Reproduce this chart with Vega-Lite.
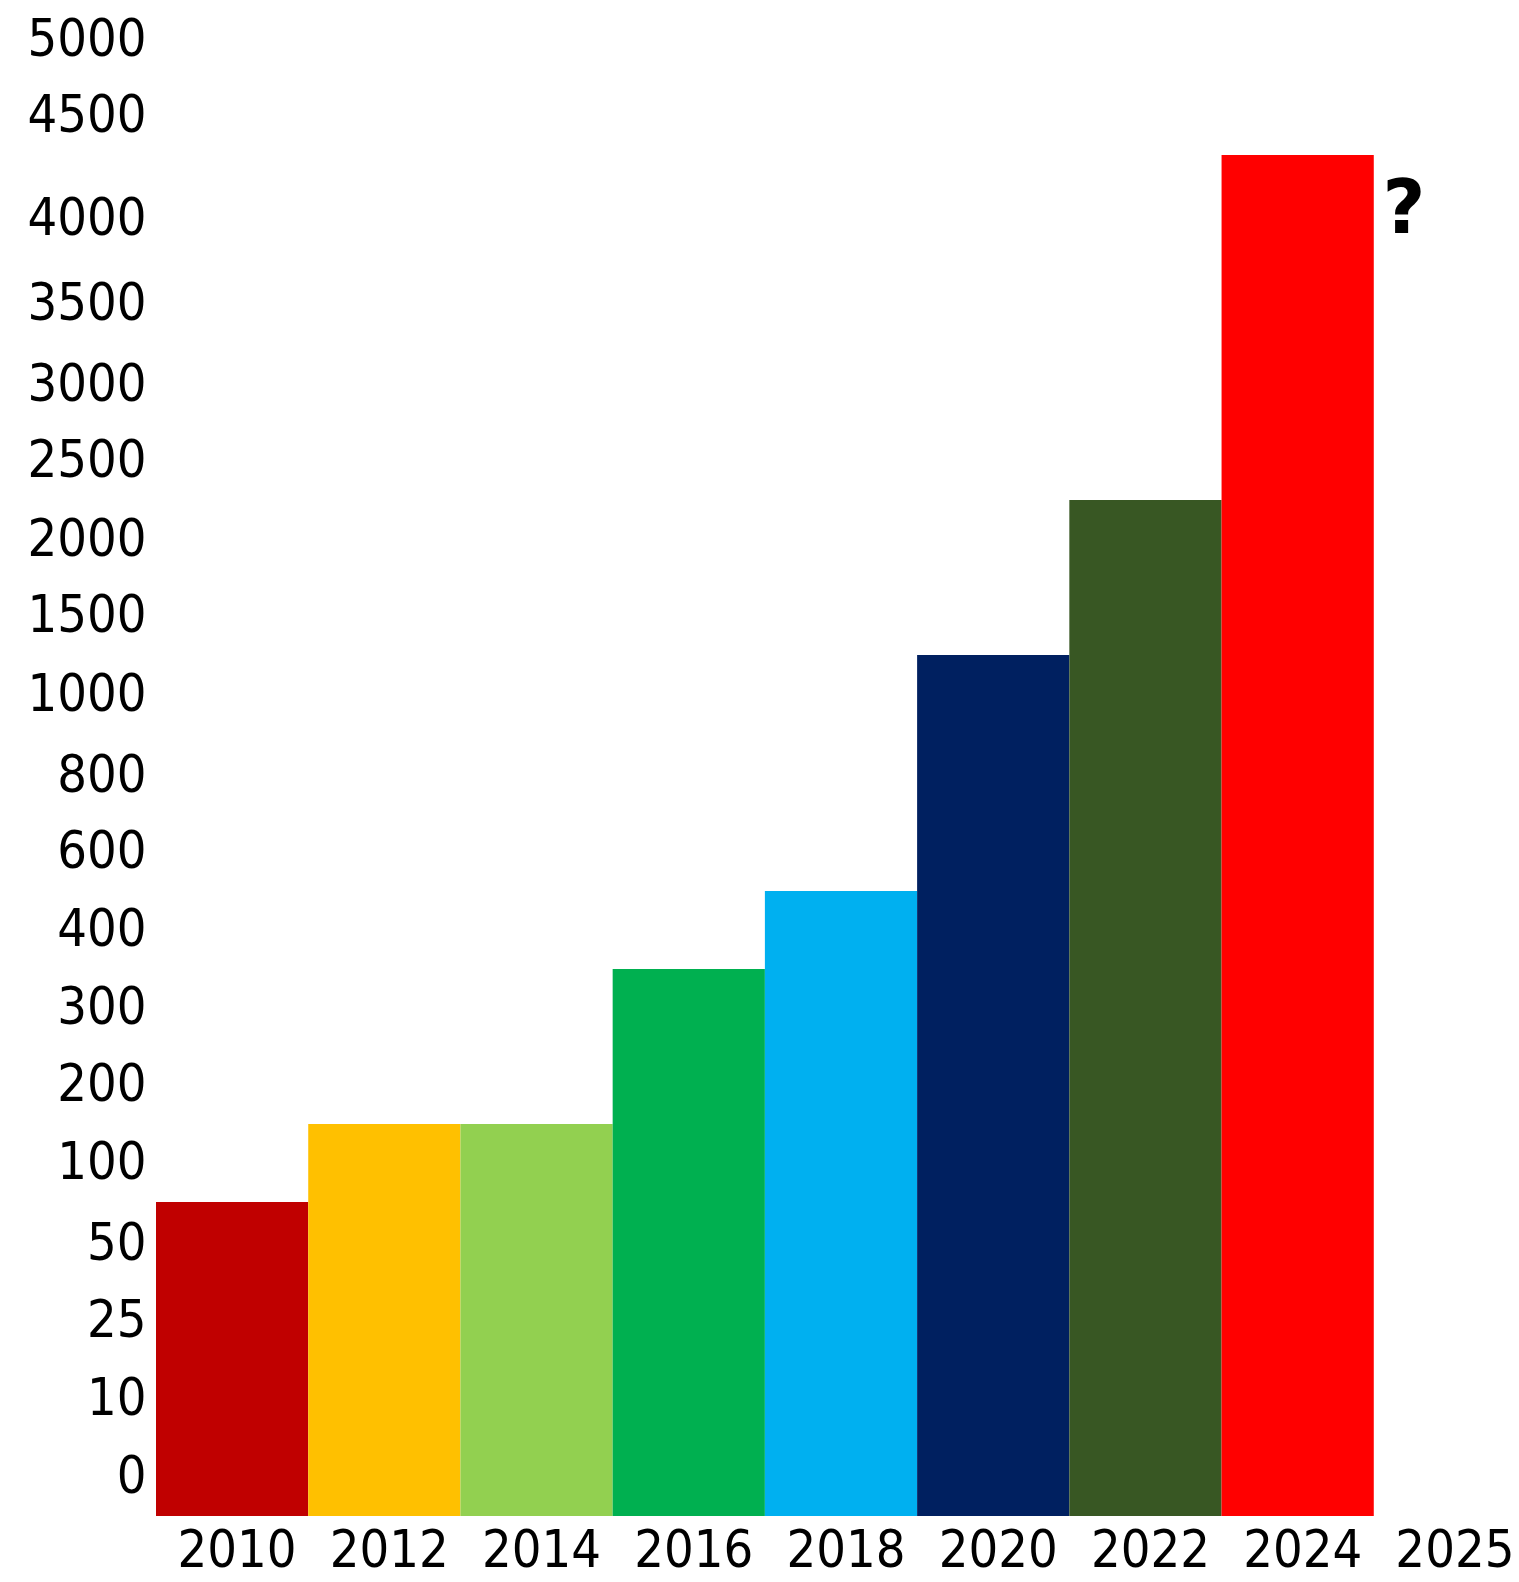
{
  "$schema": "https://vega.github.io/schema/vega-lite/v6.json",
  "autosize": {"type": "none"},
  "padding": {"left": 156, "top": 0, "right": 0, "bottom": 66},
  "width": 1370,
  "height": 1516,
  "background": "white",
  "config": {
    "view": {"stroke": null},
    "axis": {"labelFont": "DejaVu Sans Condensed", "labelFontSize": 52, "labelColor": "#000000"}
  },
  "layer": [
    {
      "data": {"values": [
        {"year": "2010", "value": 100},
        {"year": "2012", "value": 200},
        {"year": "2014", "value": 200},
        {"year": "2016", "value": 400},
        {"year": "2018", "value": 600},
        {"year": "2020", "value": 1500},
        {"year": "2022", "value": 2500},
        {"year": "2024", "value": 4500}
      ]},
      "mark": {"type": "bar"},
      "encoding": {
        "x": {
          "field": "year", "type": "nominal",
          "scale": {"domain": ["2010","2012","2014","2016","2018","2020","2022","2024","2025"], "paddingInner": 0, "paddingOuter": 0},
          "axis": {"title": null, "labelAngle": 0, "ticks": false, "domain": false, "labelPadding": 9, "labelOffset": 5, "labelBaseline": "top"}
        },
        "y": {
          "field": "value", "type": "quantitative",
          "scale": {
            "domain": [0,10,25,50,100,200,300,400,600,800,1000,1500,2000,2500,3000,3500,4000,4500,5000],
            "range": [1516,1438,1360,1283,1202,1124,1047,969,891,815,734,655,579,500,424,343,258,155,79],
            "nice": false, "zero": false, "clamp": false
          },
          "axis": {
            "title": null,
            "values": [0,10,25,50,100,200,300,400,600,800,1000,1500,2000,2500,3000,3500,4000,4500,5000],
            "format": "d",
            "ticks": false, "domain": false, "grid": false,
            "labelPadding": 10, "labelOffset": -40,
            "labelOverlap": false, "labelFlush": false, "labelBound": false
          }
        },
        "color": {
          "field": "year", "type": "nominal",
          "scale": {
            "domain": ["2010","2012","2014","2016","2018","2020","2022","2024"],
            "range": ["#C00000","#FFC000","#92D050","#00B050","#00B0F0","#002060","#385723","#FF0000"]
          },
          "legend": null
        }
      }
    },
    {
      "data": {"values": [{"year": "2025", "value": 4230, "label": "?"}]},
      "mark": {"type": "text", "font": "DejaVu Sans", "fontWeight": "bold", "fontSize": 74, "color": "#000000", "baseline": "middle", "align": "center", "dx": -46},
      "encoding": {
        "x": {"field": "year", "type": "nominal"},
        "y": {"field": "value", "type": "quantitative"},
        "text": {"field": "label"}
      }
    }
  ]
}
